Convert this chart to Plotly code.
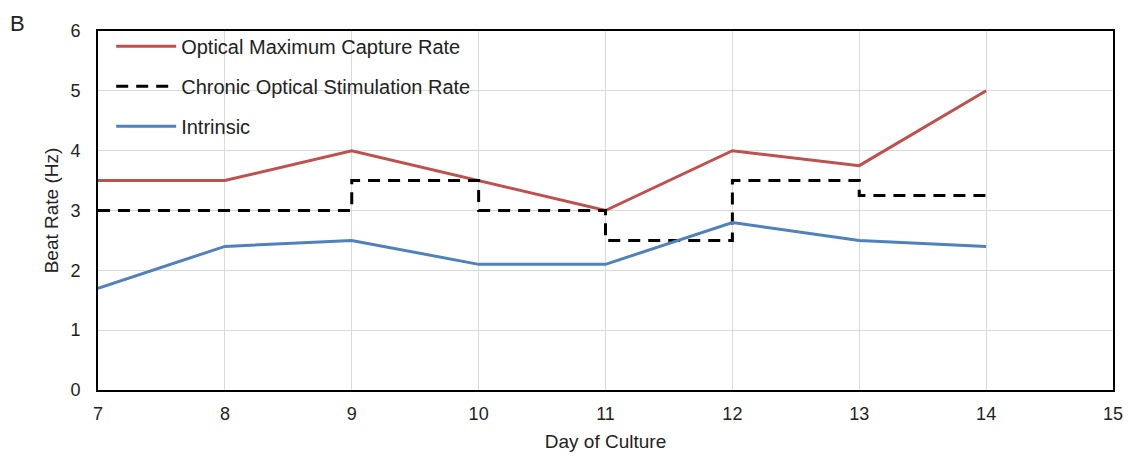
import plotly.graph_objects as go

days = [7, 8, 9, 10, 11, 12, 13, 14]
optical_max = [3.5, 3.5, 4.0, 3.5, 3.0, 4.0, 3.75, 5.0]
chronic_stim = [3.0, 3.0, 3.5, 3.0, 2.5, 3.5, 3.25, 3.25]
intrinsic = [1.7, 2.4, 2.5, 2.1, 2.1, 2.8, 2.5, 2.4]

FONT = "Liberation Sans, Arial, sans-serif"

fig = go.Figure()
fig.add_trace(go.Scatter(x=days, y=optical_max, mode="lines", name="Optical Maximum Capture Rate",
                         line=dict(color="#C0504D", width=3), legendgroup="a"))
fig.add_trace(go.Scatter(x=days, y=chronic_stim, mode="lines", name="Chronic Optical Stimulation Rate",
                         line=dict(color="black", width=3, dash="12px,8px", shape="hv"), legendgroup="b"))
fig.add_trace(go.Scatter(x=days, y=intrinsic, mode="lines", name="Intrinsic",
                         line=dict(color="#4F81BD", width=3), legendgroup="c"))

fig.update_layout(
    width=1131, height=456,
    margin=dict(l=90, r=26, t=23, b=74),
    paper_bgcolor="white", plot_bgcolor="white",
    font=dict(family=FONT, size=19, color="#222"),
    showlegend=True,
    legend=dict(x=0.013, y=1.012, xanchor="left", yanchor="top", bgcolor="rgba(0,0,0,0)",
                font=dict(size=20, color="#222"), tracegroupgap=11, itemwidth=60),
    xaxis=dict(range=[7, 15], dtick=1, showgrid=True, gridcolor="#D9D9D9", gridwidth=1,
               showline=True, linecolor="black", linewidth=2, mirror=True, zeroline=False,
               automargin=False,
               ticks="outside", ticklen=6, tickcolor="rgba(0,0,0,0)", tickfont=dict(size=18),
               title=dict(text="Day of Culture", font=dict(size=19), standoff=12)),
    yaxis=dict(range=[0, 6], dtick=1, showgrid=True, gridcolor="#D9D9D9", gridwidth=1,
               showline=True, linecolor="black", linewidth=2, mirror=True, zeroline=False,
               automargin=False,
               ticks="outside", ticklen=12, tickcolor="rgba(0,0,0,0)", tickfont=dict(size=18),
               title=dict(text="Beat Rate (Hz)", font=dict(size=19), standoff=7)),
    annotations=[dict(text="B", x=-0.079, y=1.062, xref="paper", yref="paper", showarrow=False,
                      xanchor="center", yanchor="top", font=dict(size=22, color="#222"))],
)

fig.write_html("out.html")
